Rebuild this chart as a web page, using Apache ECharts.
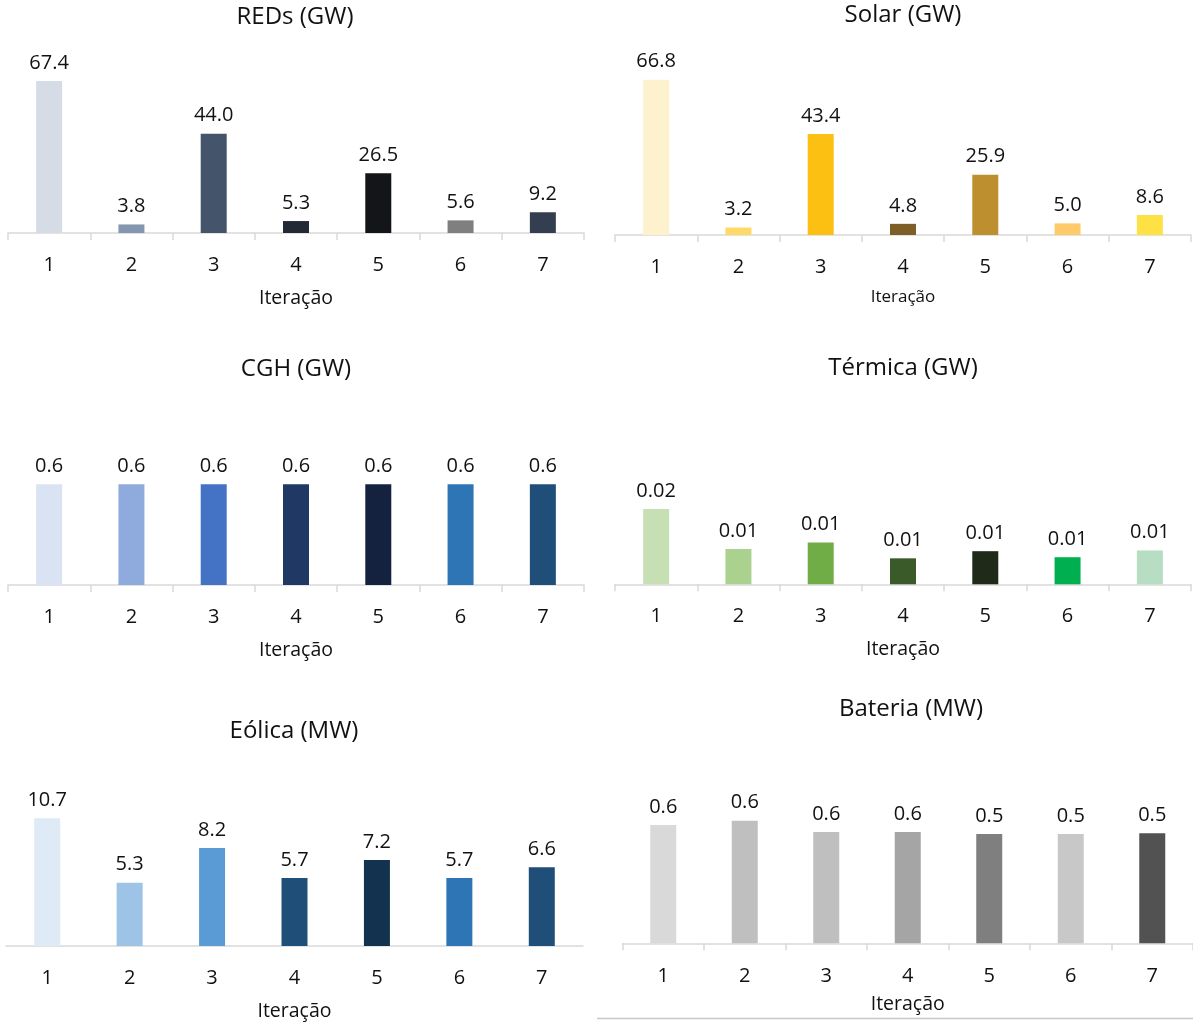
<!DOCTYPE html>
<html>
<head>
<meta charset="utf-8">
<title>Capacidade instalada por iteração</title>
<script src="https://cdn.jsdelivr.net/npm/echarts@6/dist/echarts.min.js"></script>
<style>
  html, body { margin: 0; padding: 0; background: #ffffff; }
  #chart { width: 1193px; height: 1022px; }
</style>
</head>
<body>
<div id="chart"></div>
<script>
// Iterações (eixo das categorias)
const iteracoes = ['1', '2', '3', '4', '5', '6', '7'];

// Capacidades por tecnologia
const redsGW     = [67.4, 3.8, 44.0, 5.3, 26.5, 5.6, 9.2];
const solarGW    = [66.8, 3.2, 43.4, 4.8, 25.9, 5.0, 8.6];
const cghGW      = [0.6, 0.6, 0.6, 0.6, 0.6, 0.6, 0.6];
const termicaGW  = [0.02, 0.0094, 0.0111, 0.0069, 0.0088, 0.0072, 0.0090];
const eolicaMW   = [10.7, 5.3, 8.2, 5.7, 7.2, 5.7, 6.6];
const bateriaMW  = [0.589, 0.610, 0.554, 0.554, 0.544, 0.544, 0.547];

// Cores de cada barra
const redsCores    = ['#D6DCE5', '#8497B0', '#44546A', '#222A35', '#141518', '#7F7F7F', '#333F50'];
const solarCores   = ['#FEF2CE', '#FFD966', '#FCC012', '#7F5F28', '#BD8F2F', '#FFCA6A', '#FEE145'];
const cghCores     = ['#DAE3F3', '#8FAADC', '#4472C4', '#203864', '#15223F', '#2E75B6', '#1F4E79'];
const termicaCores = ['#C6E0B4', '#AAD18E', '#70AD47', '#3A5A29', '#1F2A18', '#00B050', '#B7DEC2'];
const eolicaCores  = ['#DEEBF7', '#9DC3E6', '#5B9BD5', '#1F4E79', '#13324F', '#2E75B6', '#1F4E79'];
const bateriaCores = ['#D9D9D9', '#BFBFBF', '#BFBFBF', '#A6A5A5', '#7F7F7F', '#C8C8C8', '#525252'];

const FONT = '"Open Sans", "Noto Sans", sans-serif';
const TXT = '#111111';

// Layout de cada painel (3 linhas x 2 colunas)
const paineis = [
  { titulo: 'REDs (GW)',     dados: redsGW,    cores: redsCores,    casas: 1, max: 80,
    grid: { left: 8,   top: 52.6,  width: 576, height: 180.4 }, tx: 295, ty: 5,
    ticks: true, margem: 22, gap: 55, nomeFs: 19.5 },
  { titulo: 'Solar (GW)',    dados: solarGW,   cores: solarCores,   casas: 1, max: 80,
    grid: { left: 615, top: 49,    width: 576, height: 186 },   tx: 903, ty: 3,
    ticks: true, margem: 22, gap: 54, nomeFs: 17 },
  { titulo: 'CGH (GW)',      dados: cghGW,     cores: cghCores,     casas: 1, max: 0.7,
    grid: { left: 8,   top: 467.5, width: 576, height: 117.5 }, tx: 296, ty: 357,
    ticks: true, margem: 22, gap: 55, nomeFs: 19.5 },
  { titulo: 'Térmica (GW)',  dados: termicaGW, cores: termicaCores, casas: 2, max: 0.03,
    grid: { left: 615, top: 471.4, width: 576, height: 112.9 }, tx: 903, ty: 356,
    ticks: true, margem: 22, gap: 55, nomeFs: 19.5 },
  { titulo: 'Eólica (MW)',   dados: eolicaMW,  cores: eolicaCores,  casas: 1, max: 12,
    grid: { left: 6,   top: 802.7, width: 577, height: 144 },   tx: 294, ty: 719,
    ticks: false, margem: 22, gap: 55, nomeFs: 19.5 },
  { titulo: 'Bateria (MW)',  dados: bateriaMW, cores: bateriaCores, casas: 1, max: 0.7,
    grid: { left: 622.5, top: 802.6, width: 571, height: 140.7 }, tx: 911, ty: 697,
    ticks: true, margem: 23, gap: 51, nomeFs: 19.5 }
];

const option = {
  backgroundColor: '#ffffff',
  animation: false,
  title: paineis.map(p => ({
    text: p.titulo,
    left: p.tx,
    top: p.ty,
    textAlign: 'center',
    padding: 0,
    textStyle: { fontFamily: FONT, fontSize: 24, fontWeight: 'normal', color: TXT }
  })),
  grid: paineis.map(p => Object.assign({ containLabel: false }, p.grid)),
  xAxis: paineis.map((p, i) => ({
    type: 'category',
    gridIndex: i,
    data: iteracoes,
    boundaryGap: true,
    name: 'Iteração',
    nameLocation: 'middle',
    nameGap: p.gap,
    nameTextStyle: { fontFamily: FONT, fontSize: p.nomeFs, color: TXT },
    axisLine: { show: true, lineStyle: { color: '#d9d9d9', width: 1.5 } },
    axisTick: { show: p.ticks, alignWithLabel: false, length: 7, lineStyle: { color: '#d9d9d9', width: 1.5 } },
    axisLabel: { margin: p.margem, fontFamily: FONT, fontSize: 20, color: TXT },
    splitLine: { show: false }
  })),
  yAxis: paineis.map((p, i) => ({
    type: 'value',
    gridIndex: i,
    min: 0,
    max: p.max,
    show: false,
    splitLine: { show: false }
  })),
  series: paineis.map((p, i) => ({
    type: 'bar',
    name: p.titulo,
    xAxisIndex: i,
    yAxisIndex: i,
    barWidth: 26,
    data: p.dados.map((v, k) => ({ value: v, itemStyle: { color: p.cores[k] } })),
    label: {
      show: true,
      position: 'top',
      distance: 8,
      fontFamily: FONT,
      fontSize: 20,
      color: TXT,
      formatter: d => d.value.toFixed(p.casas)
    }
  })),
  graphic: [{
    type: 'line',
    shape: { x1: 597, y1: 1018.5, x2: 1193, y2: 1018.5 },
    style: { stroke: '#c8c8c8', lineWidth: 1.5 }
  }]
};

const chart = echarts.init(document.getElementById('chart'), null, { renderer: 'canvas' });
chart.setOption(option);
</script>
</body>
</html>
